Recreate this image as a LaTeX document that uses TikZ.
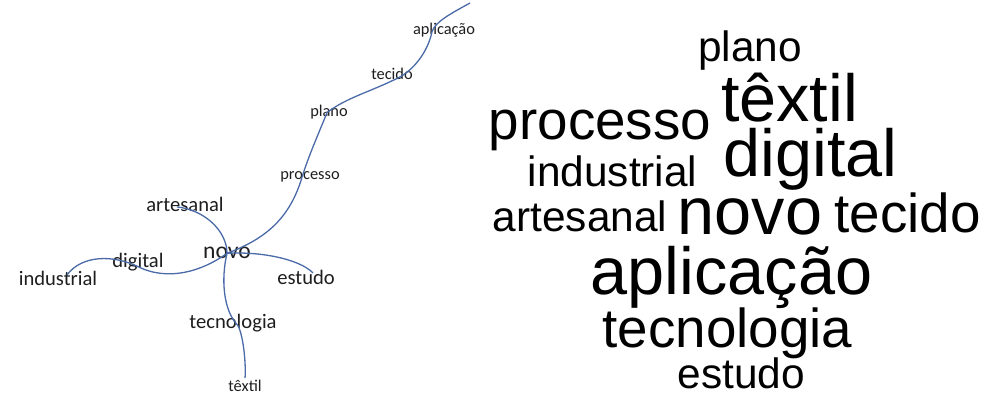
\documentclass[tikz,border=0pt]{standalone}
\usepackage{fontspec}
\setmainfont{Carlito}
\newfontfamily\cloudfont{Liberation Sans}
\usetikzlibrary{calc}
\definecolor{TreeBlue}{RGB}{74,106,168}
\definecolor{TreeText}{RGB}{30,30,30}

\begin{document}
\begin{tikzpicture}[x=0.5pt, y=-0.5pt,
    word/.style={anchor=base, inner sep=1pt, text=TreeText},
    wsmall/.style={word, font=\fontsize{8.2}{10}\selectfont},
    wmid/.style={word, font=\fontsize{10.3}{12}\selectfont},
    wbig/.style={word, font=\fontsize{11.8}{14}\selectfont},
    link/.style={draw=TreeBlue, line width=0.65pt},
    cword/.style={anchor=base, inner sep=0pt, text=black},
    csmall/.style={cword, font=\cloudfont\fontsize{21.2}{24}\selectfont},
    cmid/.style={cword, font=\cloudfont\fontsize{27.4}{30}\selectfont},
    cbig/.style={cword, font=\cloudfont\fontsize{33.3}{36}\selectfont}
]
    \useasboundingbox (0,0) rectangle (983,394);

    % similarity tree
    \node[wsmall] (aplicacao) at (444,35)  {aplicação};
    \node[wsmall] (tecido)    at (392,80)  {tecido};
    \node[wsmall] (plano)     at (329,117) {plano};
    \node[wsmall] (processo)  at (310,180) {processo};
    \node[wmid]   (artesanal) at (185,212) {artesanal};
    \node[wbig]   (novo)      at (227,259) {novo};
    \node[wmid]   (digital)   at (138,268) {digital};
    \node[wmid]   (industrial) at (58,286) {industrial};
    \node[wmid]   (estudo)    at (306,285) {estudo};
    \node[wmid]   (tecnologia) at (233,329) {tecnologia};
    \node[wsmall] (textil)    at (245,392) {têxtil};
    \coordinate (topend) at (470,3);

    \draw[link] (novo.center) .. controls +(40,-15) and +(-12,40) .. ($(processo.center)+(-8,0)$);
    \draw[link] ($(processo.center)+(-8,0)$) .. controls +(6,-20) and +(-8,20) .. ($(plano.center)+(-2,0)$);
    \draw[link] ($(plano.center)+(-2,0)$) .. controls +(18,-14) and +(-25,12) .. ($(tecido.center)+(1,6)$);
    \draw[link] ($(tecido.center)+(1,6)$) .. controls +(20,-8) and +(-4,20) .. ($(aplicacao.center)+(-12,1)$);
    \draw[link] ($(aplicacao.center)+(-12,1)$) .. controls +(3,-10) and +(-18,10) .. (topend);
    \draw[link] ($(artesanal.center)+(-8,2)$) .. controls +(28,3) and +(0,-22) .. (novo.center);
    \draw[link] (novo.center) .. controls +(-25,18) and +(30,15) .. ($(digital.center)+(0,4)$);
    \draw[link] ($(digital.center)+(0,4)$) .. controls +(-25,-12) and +(15,-20) .. ($(industrial.center)+(9,-4)$);
    \draw[link] (novo.center) .. controls +(30,-2) and +(-15,-15) .. ($(estudo.center)+(7,-5)$);
    \draw[link] (novo.center) .. controls +(-6,25) and +(-15,-15) .. ($(tecnologia.center)+(5,2)$);
    \draw[link] ($(tecnologia.center)+(5,2)$) .. controls +(6,12) and +(1,-12) .. (textil.north);

    % word cloud
    \node[csmall] (c-plano)      at (750,62)   {plano};
    \node[cbig]   (c-textil)     at (789.5,122) {têxtil};
    \node[cmid]   (c-processo)   at (600,140)  {processo};
    \node[cbig]   (c-digital)    at (810.5,177) {digital};
    \node[csmall] (c-industrial) at (612.5,187) {industrial};
    \node[csmall] (c-artesanal)  at (580,232)  {artesanal};
    \node[cbig]   (c-novo)       at (750,235)  {novo};
    \node[cmid]   (c-tecido)     at (907.5,233) {tecido};
    \node[cbig]   (c-aplicacao)  at (731.5,295) {aplicação};
    \node[cmid]   (c-tecnologia) at (727.5,348) {tecnologia};
    \node[csmall] (c-estudo)     at (741.5,388) {estudo};
\end{tikzpicture}
\end{document}
